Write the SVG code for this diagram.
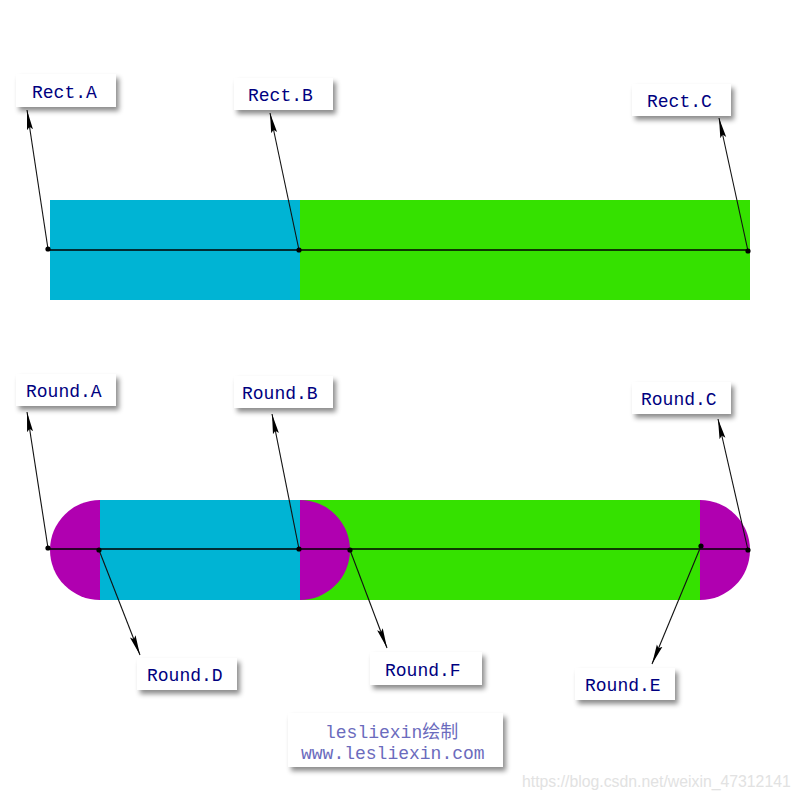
<svg xmlns="http://www.w3.org/2000/svg" width="800" height="800" viewBox="0 0 800 800">
<defs>
<style>
.lbl{fill:#fff;filter:url(#sh)}
.lt{font-family:"Liberation Mono",monospace;font-size:18px;fill:#000080}
.wm{font-family:"Liberation Mono","Noto Sans CJK SC",monospace;font-size:18px;fill:#6b6bbd}
.ar{stroke:#111;stroke-width:1.1;fill:none;marker-end:url(#ah)}
.ax{stroke:#000;stroke-width:1.3}
.dot{fill:#000}
.cy{fill:#00b4d4}
.gr{fill:#35e100}
.mg{fill:#b000b0}
</style>
<filter id="sh" x="-20%" y="-30%" width="150%" height="180%">
<feDropShadow dx="3" dy="4" stdDeviation="2.5" flood-color="#000" flood-opacity="0.45"/>
</filter>
<marker id="ah" viewBox="0 0 20 8" refX="20" refY="4" markerWidth="20" markerHeight="8" markerUnits="userSpaceOnUse" orient="auto">
<path d="M0,1 L20,4 L0,7 L3,4 Z" fill="#000"/>
</marker>
</defs>

<g id="top-bar">
<rect class="cy" x="50" y="200" width="250" height="100"/>
<rect class="gr" x="300" y="200" width="450" height="100"/>
</g>

<g id="bottom-bar">
<rect class="cy" x="100" y="500" width="200" height="100"/>
<rect class="gr" x="300" y="500" width="400" height="100"/>
<path class="mg" d="M100,500 A50,50 0 0 0 100,600 Z"/>
<path class="mg" d="M300,500 A50,50 0 0 1 300,600 Z"/>
<path class="mg" d="M700,500 A50,50 0 0 1 700,600 Z"/>
</g>

<g id="connectors">
<line class="ax" x1="46" y1="250" x2="750" y2="250"/>
<line class="ax" x1="46" y1="549" x2="750" y2="549"/>
<line class="ar" x1="48" y1="249" x2="27" y2="110"/>
<line class="ar" x1="299" y1="250" x2="270" y2="113"/>
<line class="ar" x1="748" y1="251" x2="719" y2="118"/>
<line class="ar" x1="48" y1="548" x2="27" y2="412"/>
<line class="ar" x1="299" y1="549" x2="272" y2="414"/>
<line class="ar" x1="748" y1="550" x2="718" y2="419"/>
<line class="ar" x1="99" y1="550" x2="140" y2="655"/>
<line class="ar" x1="350" y1="550" x2="387" y2="648"/>
<line class="ar" x1="701" y1="546" x2="652" y2="664"/>
<circle class="dot" cx="48" cy="249" r="2.6"/>
<circle class="dot" cx="299" cy="250" r="2.6"/>
<circle class="dot" cx="748" cy="251" r="2.6"/>
<circle class="dot" cx="48" cy="548" r="2.6"/>
<circle class="dot" cx="99" cy="550" r="2.6"/>
<circle class="dot" cx="299" cy="549" r="2.6"/>
<circle class="dot" cx="350" cy="550" r="2.6"/>
<circle class="dot" cx="701" cy="546" r="2.6"/>
<circle class="dot" cx="748" cy="550" r="2.6"/>
</g>

<g id="rect-a"><rect class="lbl" x="16" y="74" width="100" height="33"/><text class="lt" x="32" y="98">Rect.A</text></g>
<g id="rect-b"><rect class="lbl" x="234" y="78" width="99" height="32"/><text class="lt" x="248" y="101">Rect.B</text></g>
<g id="rect-c"><rect class="lbl" x="632" y="84" width="99" height="32"/><text class="lt" x="647" y="107">Rect.C</text></g>

<g id="round-a"><rect class="lbl" x="16" y="374" width="100" height="32"/><text class="lt" x="26" y="397">Round.A</text></g>
<g id="round-b"><rect class="lbl" x="234" y="376" width="99" height="32"/><text class="lt" x="242" y="399">Round.B</text></g>
<g id="round-c"><rect class="lbl" x="632" y="382" width="99" height="32"/><text class="lt" x="641" y="405">Round.C</text></g>
<g id="round-d"><rect class="lbl" x="137" y="658" width="100" height="32"/><text class="lt" x="147" y="681">Round.D</text></g>
<g id="round-f"><rect class="lbl" x="370" y="652" width="112" height="33"/><text class="lt" x="385" y="676">Round.F</text></g>
<g id="round-e"><rect class="lbl" x="575" y="668" width="100" height="32"/><text class="lt" x="585" y="691">Round.E</text></g>

<g id="watermark">
<rect class="lbl" x="288" y="713" width="215" height="54"/>
<text class="wm" x="325" y="738">lesliexin绘制</text>
<text class="wm" x="301" y="759">www.lesliexin.com</text>
</g>

<text x="522" y="787" font-family="Liberation Sans, Arial, sans-serif" font-size="15.8" fill="#e2e2e2">https://blog.csdn.net/weixin_47312141</text>
</svg>
